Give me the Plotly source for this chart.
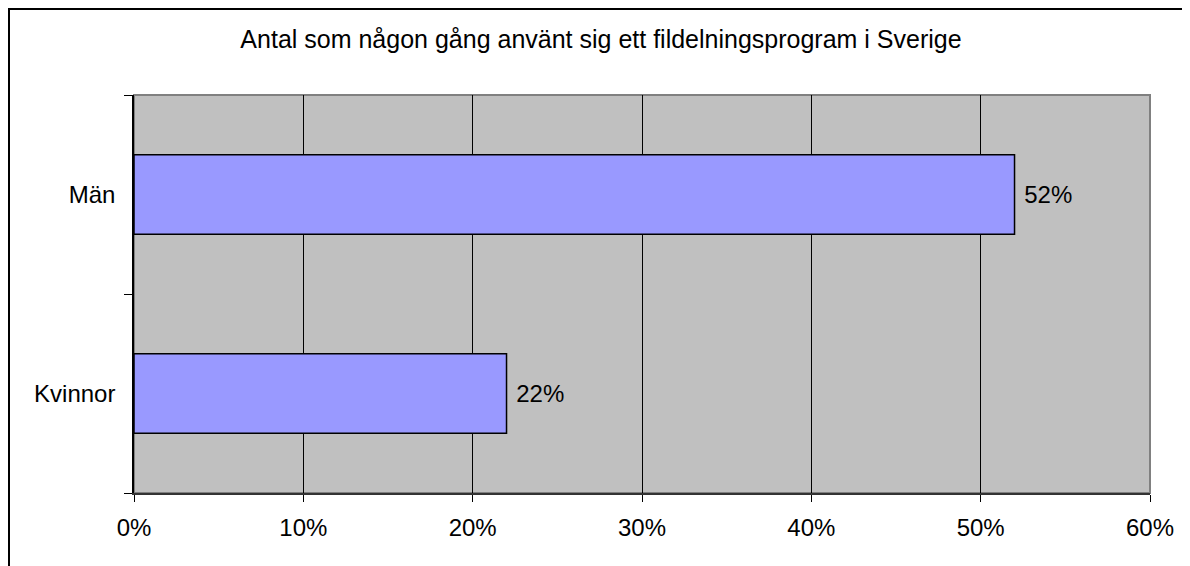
import plotly.graph_objects as go

categories = ["Kvinnor", "Män"]
values = [0.22, 0.52]
labels = ["22%", "52%"]
x_ticks = [0, 0.1, 0.2, 0.3, 0.4, 0.5, 0.6]
x_tick_labels = ["0%", "10%", "20%", "30%", "40%", "50%", "60%"]
title_text = "Antal som någon gång använt sig ett fildelningsprogram i Sverige"

FONT = "Liberation Sans, Arial, sans-serif"

# page body has an 8px margin, so the figure is sized/positioned accordingly
W, H = 1190, 558
L, R, T, B = 126, 48, 87, 73
PW = W - L - R
PH = H - T - B

fig = go.Figure()
fig.add_trace(go.Bar(
    y=categories,
    x=values,
    orientation="h",
    width=0.4,
    marker=dict(color="#9999FF", line=dict(color="black", width=1.5)),
    text=labels,
    texttemplate=" %{text}",
    textposition="outside",
    textfont=dict(family=FONT, size=24, color="black"),
    cliponaxis=False,
))

fig.update_layout(
    width=W,
    height=H,
    margin=dict(l=L, r=R, t=T, b=B, pad=0),
    paper_bgcolor="white",
    plot_bgcolor="#C0C0C0",
    showlegend=False,
    bargap=0.6,
    title=dict(
        text=title_text,
        x=593 / W,
        xanchor="center",
        y=1 - 31 / H,
        yanchor="middle",
        font=dict(family=FONT, size=25, color="black"),
    ),
    xaxis=dict(
        range=[0, 0.6],
        tickvals=x_ticks,
        ticktext=x_tick_labels,
        showgrid=True,
        gridcolor="black",
        gridwidth=1,
        zeroline=False,
        showline=True,
        linecolor="#333333",
        linewidth=2,
        ticks="outside",
        ticklen=7,
        tickcolor="black",
        tickwidth=1,
        ticklabelstandoff=5,
        tickfont=dict(family=FONT, size=24, color="black"),
        fixedrange=True,
    ),
    yaxis=dict(
        range=[-0.5, 1.5],
        showgrid=False,
        zeroline=False,
        showline=True,
        linecolor="black",
        linewidth=1.5,
        ticks="outside",
        tickson="boundaries",
        ticklen=8,
        tickcolor="black",
        tickwidth=1,
        ticklabelstandoff=12,
        tickfont=dict(family=FONT, size=24, color="black"),
        fixedrange=True,
    ),
    shapes=[
        # gray plot-area frame (top and right)
        dict(type="rect", xref="paper", yref="paper", x0=0, x1=1, y0=0, y1=1,
             line=dict(color="#808080", width=2), layer="below"),
        # outer chart border, clipped at right and bottom
        dict(type="rect", xref="paper", yref="paper",
             x0=(1 - L) / PW, x1=1.2, y0=-0.4, y1=(T + PH - 1) / PH,
             line=dict(color="black", width=2), layer="above"),
    ],
)

fig.write_html("out.html")
